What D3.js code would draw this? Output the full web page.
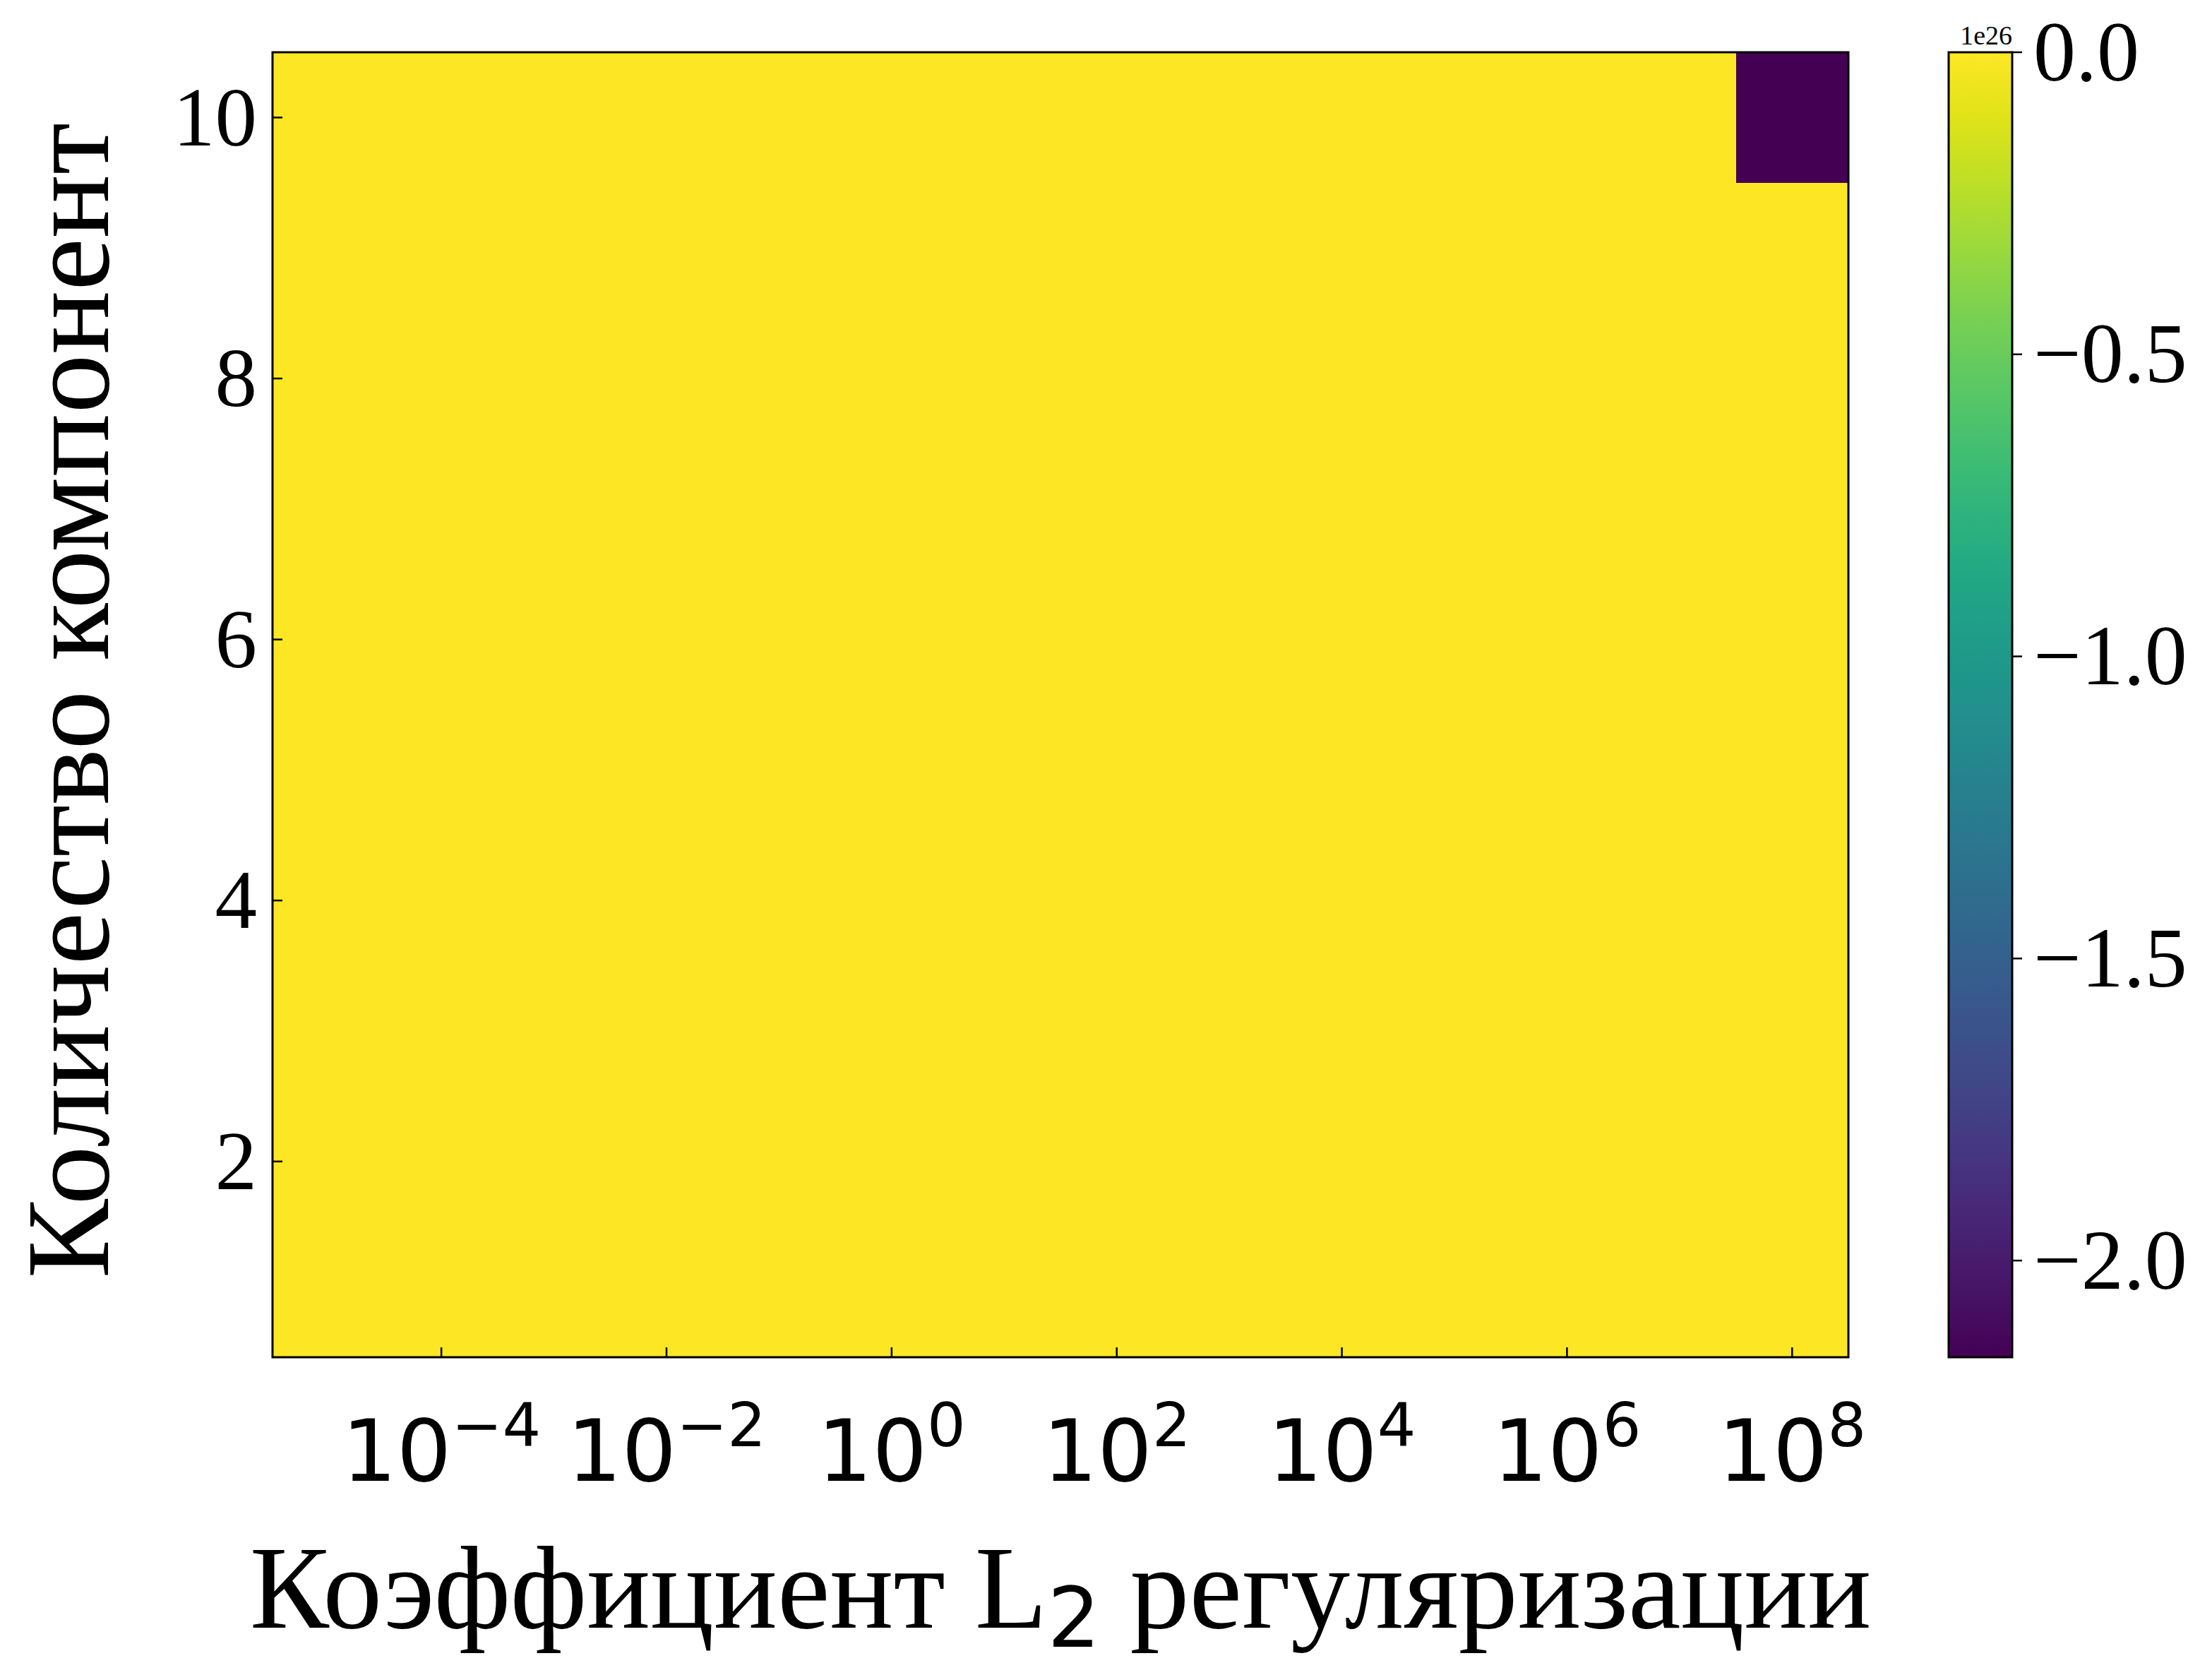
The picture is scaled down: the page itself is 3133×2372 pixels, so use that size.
<!DOCTYPE html>
<html>
<head>
<meta charset="utf-8">
<script src="https://cdn.jsdelivr.net/npm/d3@7"></script>
<style>
  html, body { margin: 0; padding: 0; background: #ffffff; }
  svg { display: block; }
</style>
</head>
<body>
<svg id="chart"></svg>
<script>
    // regularization coefficients (log10) and number of components
    var alphaExps = [-5, -4, -3, -2, -1, 0, 1, 2, 3, 4, 5, 6, 7, 8];
    var components = [1, 2, 3, 4, 5, 6, 7, 8, 9, 10];
    // one row per component count, one column per alpha
    var values = [
        [0, 0, 0, 0, 0, 0, 0, 0, 0, 0, 0, 0, 0, 0],
        [0, 0, 0, 0, 0, 0, 0, 0, 0, 0, 0, 0, 0, 0],
        [0, 0, 0, 0, 0, 0, 0, 0, 0, 0, 0, 0, 0, 0],
        [0, 0, 0, 0, 0, 0, 0, 0, 0, 0, 0, 0, 0, 0],
        [0, 0, 0, 0, 0, 0, 0, 0, 0, 0, 0, 0, 0, 0],
        [0, 0, 0, 0, 0, 0, 0, 0, 0, 0, 0, 0, 0, 0],
        [0, 0, 0, 0, 0, 0, 0, 0, 0, 0, 0, 0, 0, 0],
        [0, 0, 0, 0, 0, 0, 0, 0, 0, 0, 0, 0, 0, 0],
        [0, 0, 0, 0, 0, 0, 0, 0, 0, 0, 0, 0, 0, 0],
        [0, 0, 0, 0, 0, 0, 0, 0, 0, 0, 0, 0, 0, -2.16e26]
    ];
    var xTickExps = [-4, -2, 0, 2, 4, 6, 8];
    var yTicks = [2, 4, 6, 8, 10];
    var cbTicks = [0, -0.5, -1.0, -1.5, -2.0];
    var cbOffset = 1e26;
    var xTitle = "Коэффициент L";
    var xTitleSub = "2";
    var xTitleRest = " регуляризации";
    var yTitle = "Количество компонент";

    var W = 3133, H = 2372;
    var serif = "'Liberation Serif', 'Times New Roman', serif";
    var sans = "'DejaVu Sans', sans-serif";
    var svg = d3.select("#chart").attr("width", W).attr("height", H);

    var plot = { left: 386, right: 2618, top: 74, bottom: 1922 };
    var x = d3.scaleLog()
        .domain([Math.pow(10, alphaExps[0] - 0.5), Math.pow(10, alphaExps[alphaExps.length - 1] + 0.5)])
        .range([plot.left, plot.right]);
    var y = d3.scaleLinear()
        .domain([components[0] - 0.5, components[components.length - 1] + 0.5])
        .range([plot.bottom, plot.top]);

    var vmin = d3.min(values, function (r) { return d3.min(r); });
    var vmax = d3.max(values, function (r) { return d3.max(r); });
    var color = d3.scaleSequential(d3.interpolateViridis).domain([vmin, vmax]);

    var cells = [];
    components.forEach(function (n, i) {
        alphaExps.forEach(function (e, j) {
            cells.push({ e: e, n: n, v: values[i][j] });
        });
    });

    svg.append("g").selectAll("rect")
        .data(cells)
        .enter().append("rect")
        .attr("x", function (d) { return x(Math.pow(10, d.e - 0.5)); })
        .attr("y", function (d) { return y(d.n + 0.5); })
        .attr("width", function (d) { return x(Math.pow(10, d.e + 0.5)) - x(Math.pow(10, d.e - 0.5)) + 0.5; })
        .attr("height", function (d) { return y(d.n - 0.5) - y(d.n + 0.5) + 0.5; })
        .attr("fill", function (d) { return color(d.v); })
        .attr("shape-rendering", "crispEdges");

    // ticks pointing inwards
    var gx = svg.append("g");
    xTickExps.forEach(function (e) {
        var px = x(Math.pow(10, e));
        gx.append("line")
            .attr("x1", px).attr("x2", px)
            .attr("y1", plot.bottom).attr("y2", plot.bottom - 14)
            .attr("stroke", "#000").attr("stroke-width", 2.5);
        var t = gx.append("text")
            .attr("x", px).attr("y", 2097)
            .attr("text-anchor", "middle")
            .style("font-family", sans)
            .style("font-size", "122px");
        t.append("tspan").text("10");
        t.append("tspan")
            .attr("dy", -49)
            .style("font-size", "86px")
            .text(e < 0 ? "\u2212" + Math.abs(e) : String(e));
    });

    var gy = svg.append("g");
    yTicks.forEach(function (v) {
        var py = y(v);
        gy.append("line")
            .attr("x1", plot.left).attr("x2", plot.left + 14)
            .attr("y1", py).attr("y2", py)
            .attr("stroke", "#000").attr("stroke-width", 2.5);
        gy.append("text")
            .attr("x", 364).attr("y", py)
            .attr("dy", "0.33em")
            .attr("text-anchor", "end")
            .style("font-family", serif)
            .style("font-size", "119px")
            .text(v);
    });

    svg.append("rect")
        .attr("x", plot.left).attr("y", plot.top)
        .attr("width", plot.right - plot.left).attr("height", plot.bottom - plot.top)
        .attr("fill", "none").attr("stroke", "#000").attr("stroke-width", 3);

    // colorbar
    var cb = { left: 2760, right: 2850, top: 74, bottom: 1922 };
    var cy = d3.scaleLinear().domain([vmin, vmax]).range([cb.bottom, cb.top]);
    var grad = svg.append("defs").append("linearGradient")
        .attr("id", "cbgrad")
        .attr("x1", 0).attr("y1", 1).attr("x2", 0).attr("y2", 0);
    d3.range(0, 1.0001, 0.05).forEach(function (t) {
        grad.append("stop")
            .attr("offset", t)
            .attr("stop-color", d3.interpolateViridis(t));
    });
    svg.append("rect")
        .attr("x", cb.left).attr("y", cb.top)
        .attr("width", cb.right - cb.left).attr("height", cb.bottom - cb.top)
        .attr("fill", "url(#cbgrad)")
        .attr("stroke", "#000").attr("stroke-width", 3);

    var gc = svg.append("g");
    cbTicks.forEach(function (v) {
        var py = cy(v * cbOffset);
        gc.append("line")
            .attr("x1", cb.right).attr("x2", cb.right + 14)
            .attr("y1", py).attr("y2", py)
            .attr("stroke", "#000").attr("stroke-width", 2.5);
        gc.append("text")
            .attr("x", 2880).attr("y", py)
            .attr("dy", "0.33em")
            .style("font-family", serif)
            .style("font-size", "120px")
            .text((v < 0 ? "\u2212" : "") + Math.abs(v).toFixed(1));
    });
    gc.append("text")
        .attr("x", cb.right).attr("y", 63)
        .attr("text-anchor", "end")
        .style("font-family", serif)
        .style("font-size", "38px")
        .text("1e26");

    // axis titles
    var xt = svg.append("text")
        .attr("x", (plot.left + plot.right) / 2).attr("y", 2305)
        .attr("text-anchor", "middle")
        .style("font-family", serif)
        .style("font-size", "168px");
    xt.append("tspan").text(xTitle);
    xt.append("tspan")
        .attr("dy", 27)
        .style("font-family", sans)
        .style("font-size", "118px")
        .text(xTitleSub);
    xt.append("tspan").attr("dy", -27).text(xTitleRest);

    svg.append("text")
        .attr("transform", "translate(153," + ((plot.top + plot.bottom) / 2 - 6) + ") rotate(-90)")
        .attr("text-anchor", "middle")
        .style("font-family", serif)
        .style("font-size", "168px")
        .text(yTitle);
</script>
</body>
</html>
